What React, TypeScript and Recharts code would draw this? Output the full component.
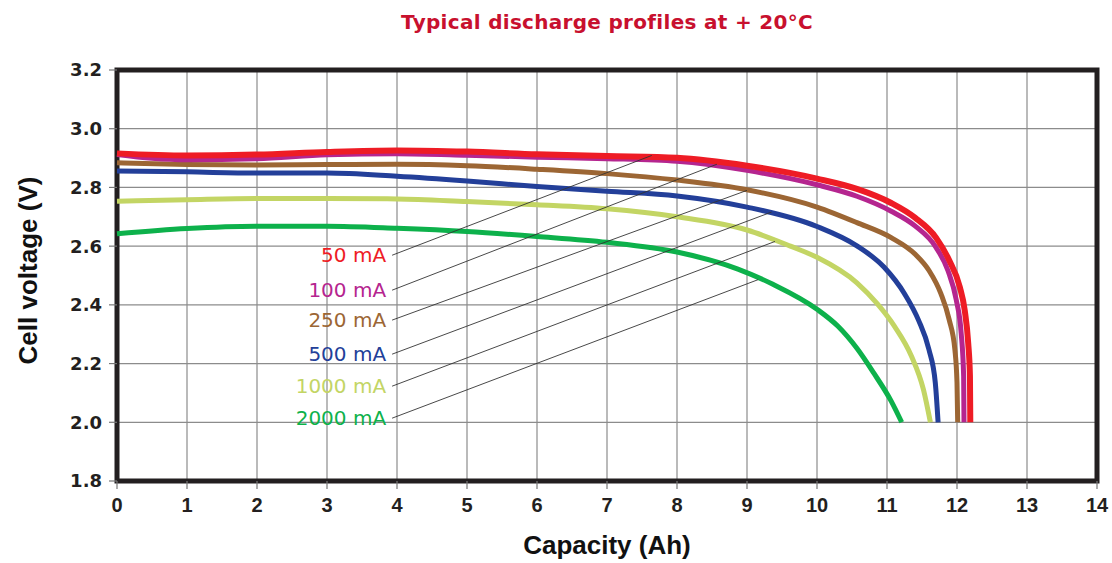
import React from 'react';
import {
  LineChart,
  Line,
  XAxis,
  YAxis,
  CartesianGrid,
  ReferenceLine,
  ReferenceArea,
  ReferenceDot,
} from 'recharts';

// Capacity (Ah) ticks and voltage (V) ticks
const xTicks = [0, 1, 2, 3, 4, 5, 6, 7, 8, 9, 10, 11, 12, 13, 14];
const yTicks = [1.8, 2.0, 2.2, 2.4, 2.6, 2.8, 3.0, 3.2];

// Discharge curves: [capacity Ah, cell voltage V]
const curve50mA: [number, number][] = [
  [0, 2.916], [1, 2.909], [2, 2.912], [3, 2.921], [4, 2.926], [5, 2.922], [6, 2.913], [7, 2.907],
  [8, 2.901], [9, 2.874], [10, 2.83], [10.57, 2.795], [11.06, 2.747], [11.4, 2.697], [11.7, 2.629],
  [11.89, 2.551], [12.04, 2.461], [12.11, 2.382], [12.16, 2.27], [12.185, 2.157], [12.19, 2.0],
];
const curve100mA: [number, number][] = [
  [0, 2.912], [0.5, 2.899], [1, 2.894], [2, 2.898], [3, 2.911], [4, 2.915], [5, 2.91], [6, 2.903],
  [7, 2.898], [8, 2.889], [9, 2.858], [10, 2.809], [10.57, 2.77], [11.06, 2.719], [11.4, 2.669],
  [11.7, 2.596], [11.87, 2.517], [11.99, 2.416], [12.06, 2.303], [12.095, 2.157], [12.1, 2.0],
];
const curve250mA: [number, number][] = [
  [0, 2.884], [1, 2.878], [2, 2.876], [3, 2.878], [4, 2.879], [5, 2.874], [6, 2.862], [7, 2.847],
  [8, 2.825], [9, 2.792], [10, 2.733], [10.57, 2.68], [11.06, 2.629], [11.4, 2.573], [11.6, 2.517],
  [11.77, 2.438], [11.89, 2.348], [11.97, 2.247], [12.0, 2.135], [12.01, 2.0],
];
const curve500mA: [number, number][] = [
  [0, 2.856], [1, 2.853], [2, 2.849], [3, 2.849], [4, 2.838], [5, 2.822], [6, 2.803], [7, 2.787],
  [8, 2.771], [9, 2.733], [10, 2.667], [10.57, 2.601], [10.96, 2.528], [11.25, 2.438], [11.45, 2.348],
  [11.6, 2.247], [11.69, 2.135], [11.73, 2.0],
];
const curve1000mA: [number, number][] = [
  [0, 2.753], [1, 2.758], [2, 2.762], [3, 2.762], [4, 2.761], [5, 2.752], [6, 2.741], [7, 2.727],
  [8, 2.7], [9, 2.655], [9.62, 2.6], [10, 2.562], [10.57, 2.475], [10.86, 2.404], [11.11, 2.326],
  [11.35, 2.225], [11.52, 2.112], [11.62, 2.0],
];
const curve2000mA: [number, number][] = [
  [0, 2.642], [1, 2.66], [2, 2.668], [3, 2.668], [4, 2.661], [5, 2.65], [6, 2.633], [7, 2.613],
  [8, 2.58], [8.87, 2.522], [9.37, 2.47], [10, 2.385], [10.3, 2.327], [10.57, 2.252], [10.81, 2.168],
  [11.06, 2.072], [11.21, 2.0],
];

// Legend labels with leader lines (label anchor -> point on curve)
const seriesNames = ['50 mA', '100 mA', '250 mA', '500 mA', '1000 mA', '2000 mA'];
const seriesColors = ['#ee1c25', '#b5258f', '#9c6634', '#233f99', '#c3d564', '#0db14b'];
const seriesCurves = [curve50mA, curve100mA, curve250mA, curve500mA, curve1000mA, curve2000mA];
const labelCap = 3.93;
const labelVolt = [2.569, 2.45, 2.348, 2.232, 2.123, 2.014];
const leaderEndCap = [7.64, 8.57, 9.0, 9.35, 9.4, 9.16];
const leaderEndVolt = [2.909, 2.879, 2.79, 2.716, 2.616, 2.486];

const toRows = (c: [number, number][]) => c.map(([cap, v]) => ({ cap, v }));

const YTitle = (props: any) => {
  const vb = props.viewBox || { x: 0, y: 0, width: 0, height: 0 };
  const cx = vb.x + 28;
  const cy = vb.y + vb.height / 2 - 5;
  return (
    <text
      x={cx}
      y={cy}
      transform={`rotate(-90, ${cx}, ${cy})`}
      textAnchor="middle"
      dominantBaseline="central"
      fontFamily="'Liberation Sans', Arial, sans-serif"
      fontWeight="bold"
      fontSize={26}
      fill="#111"
    >
      Cell voltage (V)
    </text>
  );
};

export default function App() {
  const order = [5, 4, 3, 2, 1, 0];
  return (
    <div style={{ position: 'absolute', left: 0, top: 0, width: 1112, height: 563, background: '#fff' }}>
      <div
        style={{
          position: 'absolute',
          left: 117,
          width: 980,
          top: 10,
          lineHeight: '24px',
          textAlign: 'center',
          fontFamily: "'DejaVu Sans', sans-serif",
          fontWeight: 'bold',
          fontSize: 20,
          letterSpacing: 0.3,
          color: '#c8102e',
        }}
      >
        Typical discharge profiles at + 20°C
      </div>
      <LineChart
        width={1112}
        height={563}
        margin={{ top: 70, right: 15, bottom: 7, left: 0 }}
        style={{ position: 'absolute', left: 0, top: 0 }}
      >
        <CartesianGrid stroke="#8c8c8c" strokeWidth={1.2} />
        <XAxis
          type="number"
          dataKey="cap"
          domain={[0, 14]}
          ticks={xTicks}
          interval={0}
          height={75}
          axisLine={false}
          tickLine={{ stroke: '#777', strokeWidth: 1.2 }}
          tickSize={8}
          tickMargin={9}
          tick={{ fill: '#231f20', fontSize: 20, fontWeight: 'bold', fontFamily: "'Liberation Sans Narrow', 'Liberation Sans', sans-serif" }}
          label={{
            value: 'Capacity (Ah)',
            position: 'insideBottom',
            offset: 2,
            fill: '#111',
            fontSize: 26,
            fontWeight: 'bold',
            fontFamily: "'Liberation Sans', Arial, sans-serif",
          }}
        />
        <YAxis
          type="number"
          dataKey="v"
          domain={[1.8, 3.2]}
          ticks={yTicks}
          interval={0}
          allowDataOverflow
          width={117}
          axisLine={false}
          tickLine={{ stroke: '#777', strokeWidth: 1.2 }}
          tickSize={8}
          tickMargin={7}
          tickFormatter={(v: number) => v.toFixed(1)}
          tick={{ fill: '#231f20', fontSize: 18, fontWeight: 'bold', fontFamily: "'DejaVu Sans', sans-serif" }}
          label={<YTitle />}
        />
        {order.map((i) => (
          <Line
            key={seriesNames[i]}
            data={toRows(seriesCurves[i])}
            dataKey="v"
            type="monotone"
            stroke={seriesColors[i]}
            strokeWidth={i === 0 ? 6 : 5}
            dot={false}
            activeDot={false}
            isAnimationActive={false}
          />
        ))}
        {seriesNames.map((name, i) => (
          <ReferenceLine
            key={'lead' + name}
            segment={[
              { x: labelCap, y: labelVolt[i] },
              { x: leaderEndCap[i], y: leaderEndVolt[i] },
            ]}
            stroke="#333"
            strokeWidth={0.9}
          />
        ))}
        {seriesNames.map((name, i) => (
          <ReferenceDot
            key={'lab' + name}
            x={labelCap}
            y={labelVolt[i]}
            r={0}
            fill="none"
            stroke="none"
            label={{
              value: name,
              position: 'left',
              offset: 6,
              fill: seriesColors[i],
              fontSize: 20,
              fontFamily: "'DejaVu Sans', sans-serif",
            }}
          />
        ))}
        <ReferenceArea x1={0} x2={14} y1={1.8} y2={3.2} fill="none" stroke="#231f20" strokeWidth={5} />
      </LineChart>
    </div>
  );
}
